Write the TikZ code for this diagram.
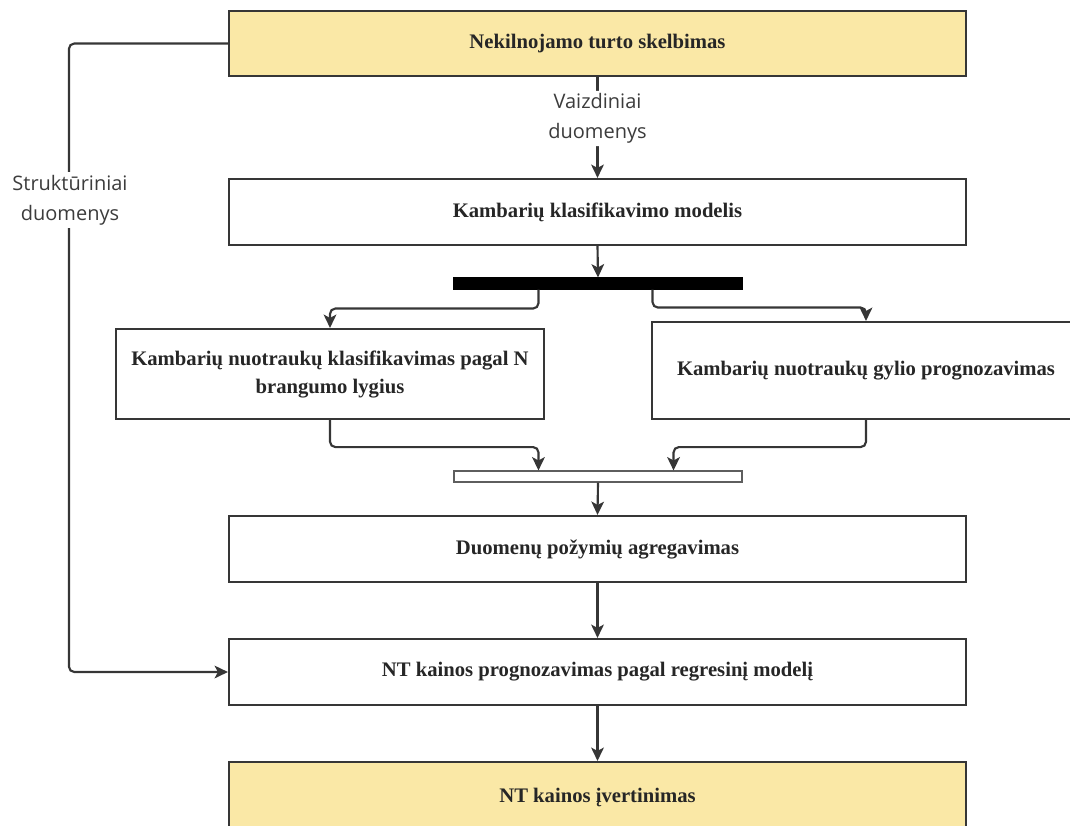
\documentclass[tikz,border=0pt]{standalone}
\usepackage{fontspec}
\setmainfont{Liberation Serif}
\newfontfamily\labelfont{Open Sans}
\usetikzlibrary{arrows.meta}
\definecolor{linegray}{HTML}{363636}
\definecolor{boxyellow}{HTML}{FAE8A6}
\definecolor{labelgray}{HTML}{3C3C3C}
\begin{document}
\begin{tikzpicture}[x=0.75pt,y=-0.75pt,
  box/.style={draw=linegray,line width=1.6pt,fill=white,inner sep=4pt,
    align=center,text=black!85,
    font=\fontsize{15.5pt}{21pt}\selectfont\bfseries},
  wide/.style={box,minimum width=552.75pt,minimum height=49.5pt},
  hilite/.style={fill=boxyellow},
  syncbar/.style={draw=linegray,line width=0.8pt,minimum width=216pt,minimum height=8.25pt,inner sep=0pt},
  conn/.style={draw=linegray,line width=1.6pt,rounded corners=4pt,
    -{Stealth[length=10pt,width=9.5pt,inset=2.5pt]}},
  lbl/.style={fill=white,align=center,text=labelgray,inner sep=2pt,
    font=\labelfont\fontsize{15pt}{22.5pt}\selectfont}]
\useasboundingbox (0,0) rectangle (1070,825);
\begin{scope}
\clip (0,0) rectangle (1070,825);

% main column of process boxes
\node[wide,hilite,minimum height=48.75pt] (ad) at (597.5,43.5) {Nekilnojamo turto skelbimas};
\node[wide] (cls) at (597.5,212) {Kambarių klasifikavimo modelis};
\node[syncbar,fill=black,draw=black] (fork) at (598,283.5) {};
\node[box,minimum width=321pt,minimum height=67.5pt] (price) at (330,374)
  {Kambarių nuotraukų klasifikavimas pagal N\\brangumo lygius};
\node[box,minimum width=321pt,minimum height=72.75pt] (depth) at (866,370.5)
  {Kambarių nuotraukų gylio prognozavimas};
\node[syncbar,fill=white,draw=linegray!80] (join) at (598,476.5) {};
\node[wide] (agg) at (597.5,549) {Duomenų požymių agregavimas};
\node[wide] (reg) at (597.5,672) {NT kainos prognozavimas pagal regresinį modelį};
\node[wide,hilite,minimum height=52.5pt] (est) at (597.5,797) {NT kainos įvertinimas};

% image data path
\draw[conn] (ad.south) -- node[lbl,pos=0.41] (vlbl) {Vaizdiniai\\duomenys} (cls.north);
\draw[conn] (cls.south) -- (fork.north);

% fork into the two image models
\draw[conn] ([xshift=63.75pt]fork.south west) -- ++(0,19) -| (price.north);
\draw[conn] ([xshift=-67.5pt]fork.south east) -- ++(0,18) -| (depth.north);

% join of the two model outputs
\draw[conn] (price.south) -- ++(0,27) -| ([xshift=63.75pt]join.north west);
\draw[conn] (depth.south) -- ++(0,27) -| ([xshift=-51.75pt]join.north east);

\draw[conn] (join.south) -- (agg.north);
\draw[conn] (agg.south) -- (reg.north);
\draw[conn] (reg.south) -- (est.north);

% structured data path
\draw[conn] (ad.west) -- ++(-159,0) |- (reg.west);
\node[lbl] (slbl) at (70,200) {Struktūriniai\\duomenys};
\end{scope}
\end{tikzpicture}
\end{document}
